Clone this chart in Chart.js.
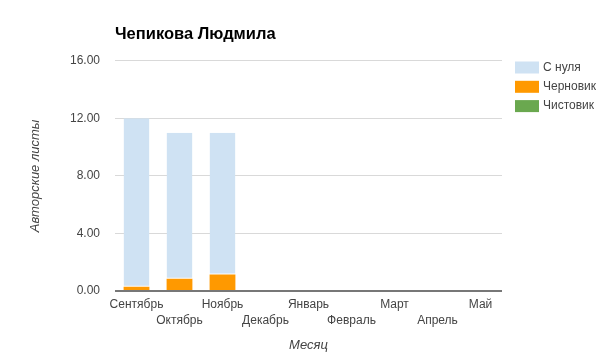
<!DOCTYPE html>
<html>
<head>
<meta charset="utf-8">
<script src="https://cdn.jsdelivr.net/npm/chart.js@4"></script>
<style>
html,body{margin:0;padding:0;background:#fff;}
canvas{display:block;}
</style>
</head>
<body>
<canvas id="c" width="605" height="361"></canvas>
<script>
const chartTitle = 'Чепикова Людмила';
const months = ['Сентябрь','Октябрь','Ноябрь','Декабрь','Январь','Февраль','Март','Апрель','Май'];
const draftValues = [0.3, 0.85, 1.15, 0, 0, 0, 0, 0, 0];       // Черновик
const cleanValues = [0, 0, 0, 0, 0, 0, 0, 0, 0];               // Чистовик
const scratchValues = [11.7, 10.15, 9.85, 0, 0, 0, 0, 0, 0];   // С нуля
const yTicks = [0, 4, 8, 12, 16];
const legendOrder = ['С нуля', 'Черновик', 'Чистовик'];
const yTitle = 'Авторские листы';
const xTitle = 'Месяц';

const FONT = "'Liberation Sans', Arial, sans-serif";

const legendPlugin = {
  id: 'sideLegend',
  afterDraw(chart) {
    const ctx = chart.ctx;
    ctx.save();
    ctx.font = '12px ' + FONT;
    ctx.textBaseline = 'middle';
    ctx.textAlign = 'left';
    legendOrder.forEach((name, i) => {
      const ds = chart.data.datasets.find(d => d.label === name);
      const cy = 67.5 + i * 19.3;
      ctx.fillStyle = ds.backgroundColor;
      ctx.fillRect(515, cy - 6, 24, 12);
      ctx.fillStyle = '#444';
      ctx.fillText(name, 543, cy);
    });
    ctx.restore();
  }
};

new Chart(document.getElementById('c'), {
  type: 'bar',
  data: {
    labels: months,
    datasets: [
      { label: 'Черновик', data: draftValues, backgroundColor: '#ff9900', borderWidth: 0 },
      { label: 'Чистовик', data: cleanValues, backgroundColor: '#6aa84f', borderWidth: 0 },
      { label: 'С нуля', data: scratchValues, backgroundColor: '#cfe2f3',
        borderColor: '#ffffff', borderSkipped: false,
        borderWidth: { top: 0, left: 0, right: 0, bottom: 1 } }
    ]
  },
  plugins: [legendPlugin],
  options: {
    responsive: false,
    animation: false,
    devicePixelRatio: 1,
    categoryPercentage: 1,
    barPercentage: 0.6,
    layout: { padding: { top: 0, left: 0, right: 103, bottom: 0 } },
    plugins: {
      legend: { display: false },
      tooltip: { enabled: false },
      title: {
        display: true, text: chartTitle, align: 'start', fullSize: false,
        color: '#000', font: { family: FONT, size: 16.5, weight: 'bold', lineHeight: 1.2 },
        padding: { top: 25, bottom: 16 }
      }
    },
    scales: {
      x: {
        stacked: true,
        grid: { display: false, drawTicks: false },
        border: { display: false },
        ticks: {
          autoSkip: false, maxRotation: 0, minRotation: 0, padding: 5,
          color: '#444', font: { family: FONT, size: 12, lineHeight: 1.38 },
          callback: function(v, i) { const l = this.getLabelForValue(v); return i % 2 === 0 ? [l] : ['', l]; }
        },
        title: { display: true, text: xTitle, color: '#444',
          font: { family: FONT, size: 13, style: 'italic', lineHeight: 1.2 },
          padding: { top: 0, bottom: 8 } },
        afterFit(s) { s.height = 70; }
      },
      y: {
        stacked: true,
        min: 0, max: 16,
        afterBuildTicks(s) { s.ticks = yTicks.map(v => ({ value: v })); },
        grid: {
          drawTicks: false,
          color: c => (c.tick && c.tick.value === 0) ? '#777' : '#d9d9d9',
          lineWidth: c => (c.tick && c.tick.value === 0) ? 2 : 1
        },
        border: { display: false },
        ticks: {
          padding: 15, color: '#444', font: { family: FONT, size: 12 },
          callback: v => Number(v).toFixed(2)
        },
        title: { display: true, text: yTitle, color: '#444',
          font: { family: FONT, size: 13, style: 'italic', lineHeight: 1.2 },
          padding: { top: 28, bottom: 0 } },
        afterFit(s) { s.width = 115; }
      }
    }
  }
});
</script>
</body>
</html>
